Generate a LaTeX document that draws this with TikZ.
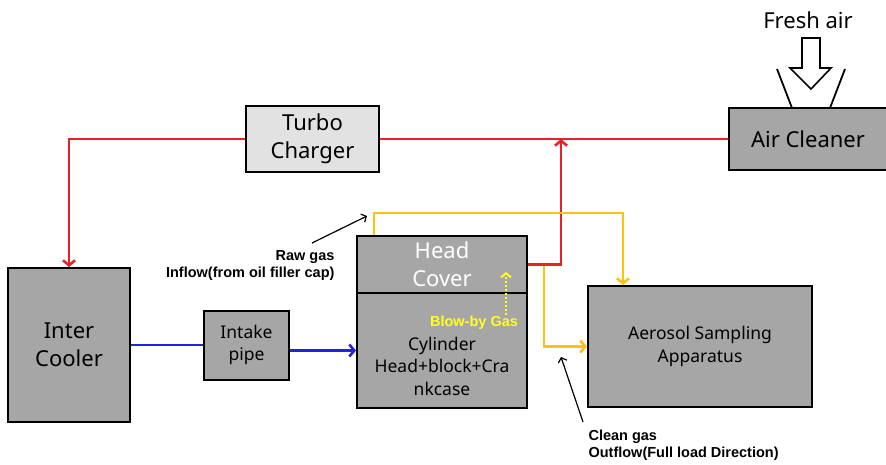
\documentclass[tikz,border=0pt]{standalone}
\usepackage{fontspec}
\setmainfont{Noto Sans}
\newfontfamily\notefont{Liberation Sans}
\usepackage{tikz}
\usetikzlibrary{positioning,calc,arrows.meta}
\definecolor{boxgray}{HTML}{A6A6A6}
\definecolor{lightbox}{HTML}{E2E2E2}
\definecolor{pipered}{HTML}{E8202A}
\definecolor{pipeblue}{HTML}{2222DD}
\definecolor{pipeyel}{HTML}{FFC20E}
\definecolor{blowyel}{HTML}{FFFF20}

\begin{document}
\begin{tikzpicture}[x=1pt,y=-1pt,
 box/.style={draw,line width=2pt,fill=boxgray,align=center,inner sep=2pt},
 big/.style={font=\fontsize{22}{28}\selectfont},
 mid/.style={font=\fontsize{17.5}{22.5}\selectfont},
 note/.style={font=\notefont\bfseries\fontsize{14.5}{17}\selectfont,align=left},
 pipe/.style={line width=2.8pt},
 ar/.style={pipe,-{Straight Barb[length=5pt,width=12pt,line width=2.6pt]}},
 notear/.style={line width=1.2pt,-{Straight Barb[length=4pt,width=9pt]}}]
\useasboundingbox (0,0) rectangle (886,464);
% boxes
\node[box,big,minimum width=122,minimum height=154] (ic) at (69,345) {Inter\\Cooler};
\node[box,big,fill=lightbox,minimum width=133,minimum height=66] (tc) at (312.5,139) {Turbo\\Charger};
\node[box,mid,minimum width=85,minimum height=69] (ip) at (246.5,345) {Intake\\pipe};
\node[box,big,text=white,minimum width=170,minimum height=57] (hc) at (442,264.5) {Head\\Cover};
\node[box,minimum width=170,minimum height=115] (cy) at (442,350.5) {};
\node[mid,align=center] (cyt) at (442,366) {Cylinder\\Head+block+Cra\\nkcase};
\node[box,mid,minimum width=224,minimum height=121] (asa) at (700,346.5) {Aerosol Sampling\\Apparatus};
\node[box,big,minimum width=158,minimum height=62] (ac) at (808,139) {Air Cleaner};
% fresh air inlet
\node[big] (fa) at (808,20) {Fresh air};
\draw[line width=1.8pt] (777,69) -- (792,108) (845,69) -- (830,108);
\draw[line width=1.6pt,fill=white] (802,38) -- (820,38) -- (820,68) -- (831,68) -- (811,89)
 -- (790,68) -- (802,68) -- cycle;
% red (air / blow-by return)
\draw[ar,pipered] (tc.west) -| (ic.north);
\draw[pipe,pipered] (tc.east) -- (ac.west);
\coordinate (rj) at (561,139);
\draw[ar,pipered] (hc.east) -| (rj);
% blue (intake)
\draw[pipe,pipeblue] (ic.east) -- (ip.west);
\draw[ar,pipeblue] (ip.east |- cy.west) -- (cy.west);
% yellow (sampling lines)
\coordinate (ytop) at (0,213);
\coordinate (yA) at ([xshift=18pt]hc.north west);
\coordinate (yB) at ([xshift=36pt]asa.north west);
\draw[ar,pipeyel] (yA) -- (yA |- ytop) -| (yB);
\coordinate (yC) at (544,266);
\draw[ar,pipeyel] (yC) |- (asa.west);
% blow-by
\node[note,text=blowyel] (bb) at (474,323) {Blow-by Gas};
\coordinate (bbs) at (506,315);
\coordinate (bbt) at (506,272);
\draw[line width=2pt,blowyel,dotted,-{Straight Barb[length=4pt,width=10pt,line width=2pt]}] (bbs) -- (bbt);
% notes
\node[note,align=right,anchor=east] (rg) at (338,266) {Raw gas\\Inflow(from oil filler cap)};
\coordinate (rgs) at (312,243);
\coordinate (rgt) at (367,216);
\draw[notear] (rgs) -- (rgt);
\node[note,anchor=west] (cg) at (585,445) {Clean gas\\Outflow(Full load Direction)};
\coordinate (cgs) at (583,422);
\coordinate (cgt) at (561,357);
\draw[notear] (cgs) -- (cgt);
\end{tikzpicture}
\end{document}
